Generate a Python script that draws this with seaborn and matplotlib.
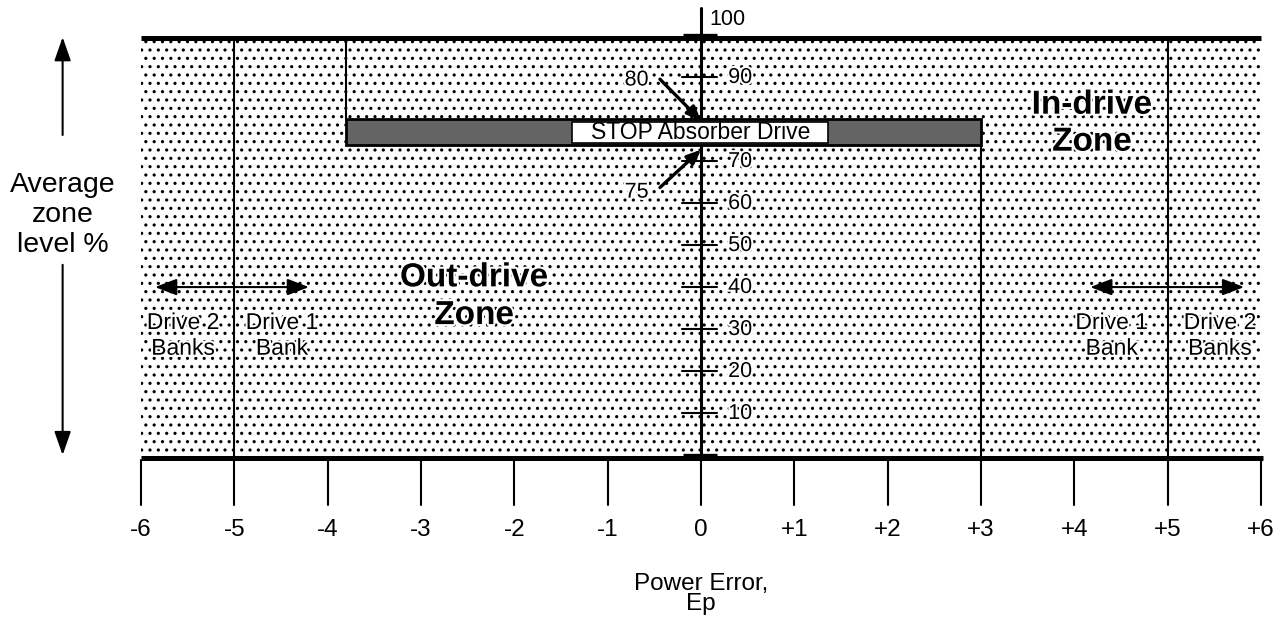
import matplotlib

matplotlib.use("Agg")

import matplotlib.pyplot as plt
import matplotlib.patheffects as pe
import seaborn as sns
from matplotlib.patches import Rectangle

# chart values
power_error_ticks = [-6, -5, -4, -3, -2, -1, 0, 1, 2, 3, 4, 5, 6]
power_error_labels = ["-6", "-5", "-4", "-3", "-2", "-1", "0", "+1", "+2", "+3", "+4", "+5", "+6"]
zone_level_ticks = [10, 20, 30, 40, 50, 60, 70, 80, 90]
zone_level_labels = ["10", "20", "30", "40", "50", "60", "70", "", "90"]
bank_limits = [-5, 5]
stop_band_x = [-3.8, 3.0]
stop_band_y = [74, 80]
stop_label_x = [-1.38, 1.36]

sns.set_theme(style="white")
plt.rcParams["font.family"] = ["Liberation Sans", "DejaVu Sans"]
plt.rcParams["text.color"] = "black"
plt.rcParams["hatch.linewidth"] = 1.1

fig = plt.figure(figsize=(12.83, 6.18), dpi=100)
ax = fig.add_axes([0, 0, 1, 1])
ax.set_xlim(-7.511, 6.236)
ax.set_ylim(-38.69, 108.45)
ax.axis("off")

halo = [pe.withStroke(linewidth=3, foreground="white")]
xmin, xmax = power_error_ticks[0], power_error_ticks[-1]

# dotted zone area
ax.fill_between([xmin, xmax], 0, 100, facecolor="white", edgecolor="black",
                hatch="..", linewidth=0, zorder=1)

# frame lines
ax.plot([xmin, xmax], [99.4, 99.4], color="black", lw=3.6, solid_capstyle="butt", zorder=3)
ax.plot([xmin, xmax + 0.02], [-0.6, -0.6], color="black", lw=3.6, solid_capstyle="butt", zorder=3)

# bank boundaries
for bx in bank_limits:
    ax.plot([bx, bx], [-0.6, 99.4], color="black", lw=1.5, zorder=2)

# stop band edges
ax.plot([stop_band_x[0]] * 2, [stop_band_y[1], 99.4], color="black", lw=1.5, zorder=2)
ax.plot([stop_band_x[1]] * 2, [-0.6, stop_band_y[0]], color="black", lw=1.5, zorder=2)

# vertical zone axis
ax.plot([0, 0], [-0.6, 106.5], color="black", lw=2.2, zorder=3)
for yt, lab in zip(zone_level_ticks, zone_level_labels):
    ax.plot([-0.2, 0.17], [yt, yt], color="black", lw=1.5, zorder=3)
    if lab:
        ax.text(0.42, yt, lab, ha="center", va="center", fontsize=15.5,
                path_effects=halo, zorder=4)
for yt in [0, 100]:
    ax.plot([-0.19, 0.17], [yt, yt], color="black", lw=2.4, solid_capstyle="butt", zorder=3)
ax.text(0.28, 103.7, "100", ha="center", va="center", fontsize=15.5)

# stop band
ax.add_patch(Rectangle((stop_band_x[0], stop_band_y[0]), stop_band_x[1] - stop_band_x[0],
                       stop_band_y[1] - stop_band_y[0], facecolor="#646464",
                       edgecolor="black", lw=2, zorder=5))
ax.add_patch(Rectangle((stop_label_x[0], stop_band_y[0] + 0.5), stop_label_x[1] - stop_label_x[0],
                       stop_band_y[1] - stop_band_y[0] - 1.2, facecolor="white",
                       edgecolor="black", lw=1.2, zorder=6))
ax.text(0, (stop_band_y[0] + stop_band_y[1]) / 2 - 0.2, "STOP Absorber Drive",
        ha="center", va="center", fontsize=16.5, zorder=7)

arrow_kw = dict(arrowstyle="-|>,head_length=0.7,head_width=0.3", color="black", lw=2.4,
                shrinkA=0, shrinkB=0)
ax.annotate("", xy=(0, stop_band_y[1] - 0.3), xytext=(-0.44, 89.6), arrowprops=arrow_kw, zorder=6)
ax.annotate("", xy=(0, 72.8), xytext=(-0.44, 63.8), arrowprops=arrow_kw, zorder=6)
ax.text(-0.69, 89.4, "80", ha="center", va="center", fontsize=15.5, path_effects=halo, zorder=6)
ax.text(-0.69, 62.7, "75", ha="center", va="center", fontsize=15.5, path_effects=halo, zorder=6)

# bottom power error axis
for xt, lab in zip(power_error_ticks, power_error_labels):
    ax.plot([xt, xt], [-1.1, -11.8], color="black", lw=1.5)
    ax.text(xt, -17.7, lab, ha="center", va="center", fontsize=17.5)
ax.text(0, -33.0, "Power Error,\nEp", ha="center", va="center", fontsize=17.5, linespacing=0.92)

# left axis label with double arrow
dbl = dict(arrowstyle="-|>,head_length=1.2,head_width=0.42", color="black", lw=1.5,
           shrinkA=0, shrinkB=0)
ax.annotate("", xy=(-6.84, 99.6), xytext=(-6.84, 76.3), arrowprops=dbl)
ax.annotate("", xy=(-6.84, 0.1), xytext=(-6.84, 45.4), arrowprops=dbl)
ax.text(-6.84, 57.3, "Average\nzone\nlevel %", ha="center", va="center", fontsize=20.5,
        linespacing=1.2)

# drive bank arrows
bank_arrow = dict(arrowstyle="<|-|>,head_length=1.1,head_width=0.42", color="black", lw=1.5,
                  shrinkA=0, shrinkB=0)
ax.annotate("", xy=(-5.85, 40.1), xytext=(-4.2, 40.1), arrowprops=bank_arrow, zorder=4)
ax.annotate("", xy=(4.17, 40.1), xytext=(5.82, 40.1), arrowprops=bank_arrow, zorder=4)
for bx, lab in [(-5.55, "Drive 2\nBanks"), (-4.49, "Drive 1\nBank"),
                (4.4, "Drive 1\nBank"), (5.56, "Drive 2\nBanks")]:
    ax.text(bx, 28.6, lab, ha="center", va="center", fontsize=16.5, linespacing=1.15,
            path_effects=halo, zorder=4)

# zone titles
ax.text(-2.43, 37.8, "Out-drive\nZone", ha="center", va="center", fontsize=24,
        fontweight="bold", linespacing=1.28, path_effects=halo, zorder=4)
ax.text(4.19, 79.0, "In-drive\nZone", ha="center", va="center", fontsize=24,
        fontweight="bold", linespacing=1.25, path_effects=halo, zorder=4)

fig.savefig("out.png", dpi=100)
